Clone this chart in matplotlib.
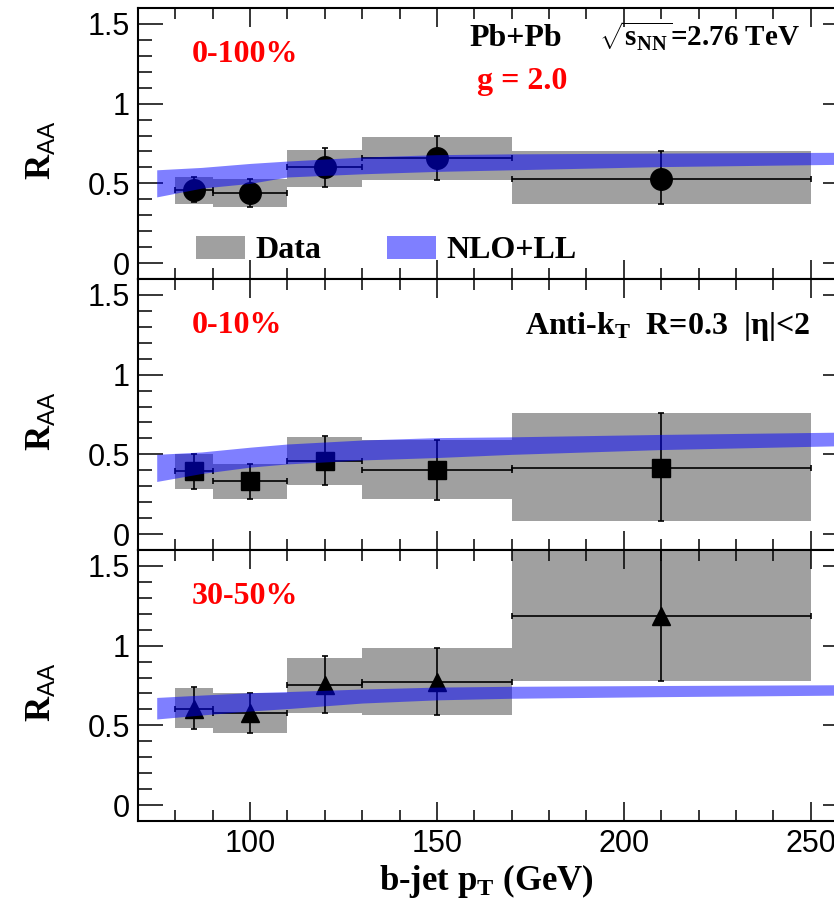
import numpy as np
import matplotlib
matplotlib.use('Agg')
import matplotlib.pyplot as plt
from matplotlib.ticker import MultipleLocator, FuncFormatter

plt.rcParams['font.family'] = 'Liberation Sans'
plt.rcParams['mathtext.fontset'] = 'custom'
plt.rcParams['mathtext.rm'] = 'Liberation Serif:bold'
plt.rcParams['mathtext.it'] = 'Liberation Serif:bold'
plt.rcParams['mathtext.bf'] = 'Liberation Serif:bold'
plt.rcParams['mathtext.sf'] = 'Liberation Sans'
plt.rcParams['mathtext.default'] = 'rm'

# b-jet pT bins (GeV)
pt = np.array([85, 100, 120, 150, 210])
pt_lo = np.array([80, 90, 110, 130, 170])
pt_hi = np.array([90, 110, 130, 170, 250])

# 0-100%
raa_0_100 = np.array([0.46, 0.44, 0.60, 0.66, 0.53])
stat_lo_0_100 = np.array([0.38, 0.35, 0.48, 0.52, 0.37])
stat_hi_0_100 = np.array([0.54, 0.53, 0.72, 0.80, 0.70])
sys_lo_0_100 = np.array([0.37, 0.35, 0.48, 0.52, 0.37])
sys_hi_0_100 = np.array([0.54, 0.53, 0.71, 0.79, 0.70])

# 0-10%
raa_0_10 = np.array([0.395, 0.33, 0.46, 0.40, 0.415])
stat_lo_0_10 = np.array([0.28, 0.22, 0.31, 0.215, 0.08])
stat_hi_0_10 = np.array([0.50, 0.44, 0.615, 0.59, 0.76])
sys_lo_0_10 = np.array([0.28, 0.22, 0.31, 0.22, 0.08])
sys_hi_0_10 = np.array([0.50, 0.44, 0.61, 0.59, 0.76])

# 30-50%
raa_30_50 = np.array([0.605, 0.577, 0.756, 0.77, 1.187])
stat_lo_30_50 = np.array([0.48, 0.455, 0.578, 0.562, 0.776])
stat_hi_30_50 = np.array([0.74, 0.70, 0.933, 0.983, 1.60])
sys_lo_30_50 = np.array([0.485, 0.455, 0.578, 0.562, 0.78])
sys_hi_30_50 = np.array([0.735, 0.70, 0.925, 0.983, 1.70])

# NLO+LL theory band (g = 2.0)
band_x = np.array([75, 87, 100, 110, 130, 150, 170, 210, 260])
band_lo_0_100 = np.array([0.415, 0.47, 0.50, 0.54, 0.56, 0.575, 0.585, 0.605, 0.62])
band_hi_0_100 = np.array([0.585, 0.60, 0.625, 0.64, 0.665, 0.68, 0.685, 0.69, 0.695])
band_lo_0_10 = np.array([0.33, 0.38, 0.42, 0.44, 0.465, 0.48, 0.50, 0.53, 0.555])
band_hi_0_10 = np.array([0.50, 0.515, 0.545, 0.565, 0.59, 0.605, 0.61, 0.625, 0.64])
band_lo_30_50 = np.array([0.54, 0.565, 0.59, 0.605, 0.64, 0.66, 0.67, 0.68, 0.69])
band_hi_30_50 = np.array([0.675, 0.69, 0.705, 0.712, 0.728, 0.74, 0.745, 0.75, 0.755])

panels = [
    ('0-100%', 'o', 15.5, raa_0_100, stat_lo_0_100, stat_hi_0_100, sys_lo_0_100, sys_hi_0_100,
     band_lo_0_100, band_hi_0_100),
    ('0-10%', 's', 13.5, raa_0_10, stat_lo_0_10, stat_hi_0_10, sys_lo_0_10, sys_hi_0_10,
     band_lo_0_10, band_hi_0_10),
    ('30-50%', '^', 13.5, raa_30_50, stat_lo_30_50, stat_hi_30_50, sys_lo_30_50, sys_hi_30_50,
     band_lo_30_50, band_hi_30_50),
]

serif = dict(family='Liberation Serif', weight='bold', size=23)

fig = plt.figure(figsize=(8.34, 9.08), dpi=100)
left, width, height = 0.1655, 0.8513, 0.29846
bottoms = [0.69273, 0.39427, 0.09581]

axes = []
for i, (label, marker, ms, raa, slo, shi, ylo, yhi, blo, bhi) in enumerate(panels):
    ax = fig.add_axes([left, bottoms[i], width, height])
    axes.append(ax)

    bars = ax.bar(pt_lo, yhi - ylo, width=pt_hi - pt_lo, bottom=ylo, align='edge',
                  color='#a0a0a0', linewidth=0, zorder=1)
    ax.errorbar(pt, raa, xerr=[pt - pt_lo, pt_hi - pt], yerr=[raa - slo, shi - raa],
                fmt=marker, color='black', ms=ms, capsize=2.5, elinewidth=1.2,
                capthick=1.2, zorder=3)
    band = ax.fill_between(band_x, blo, bhi, color='blue', alpha=0.5, linewidth=0, zorder=4)

    ax.set_xlim(70, 260)
    ax.set_ylim(-0.1, 1.6)
    ax.xaxis.set_major_locator(MultipleLocator(50))
    ax.xaxis.set_minor_locator(MultipleLocator(10))
    ax.yaxis.set_major_locator(MultipleLocator(0.5))
    ax.yaxis.set_minor_locator(MultipleLocator(0.1))
    ax.yaxis.set_major_formatter(FuncFormatter(lambda v, p: '%g' % v))
    ax.tick_params(which='both', direction='in', top=True, right=True, width=1.1,
                   labelsize=22, pad=6)
    ax.tick_params(axis='y', which='major', length=18)
    ax.tick_params(axis='y', which='minor', length=10)
    ax.tick_params(axis='x', which='major', length=14)
    ax.tick_params(axis='x', which='minor', length=8)
    for s in ax.spines.values():
        s.set_linewidth(1.5)
    if i < 2:
        ax.tick_params(labelbottom=False)

    ax.set_ylabel(r'R$_{\mathsf{AA}}$', family='Liberation Serif', weight='bold', size=25)
    ax.yaxis.set_label_coords(-0.112, 0.475)

    ax.text(84.4, 1.26, label, color='red', va='baseline', **serif)

    if i == 0:
        ax.text(158.8, 1.36, 'Pb+Pb', va='baseline', **serif)
        ax.text(193.3, 1.36, r'$\sqrt{\mathrm{s}_{\mathrm{NN}}}$=2.76 TeV', va='baseline',
                family='Liberation Serif', weight='bold', size=21)
        ax.text(160.7, 1.09, 'g = 2.0', color='red', va='baseline', **serif)
        ax.legend([bars, band], ['Data', 'NLO+LL'], prop=serif, ncol=2, frameon=False,
                  handlelength=1.54, handleheight=0.72, handletextpad=0.31,
                  columnspacing=2.07, borderpad=0, borderaxespad=0,
                  loc='lower left', bbox_to_anchor=(0.0817, 0.05))
    if i == 1:
        ax.text(173.5, 1.254, r'Anti-k$_{\mathrm{T}}$  R=0.3  |η|<2', va='baseline', **serif)

axes[2].set_xlabel(r'b-jet p$_{\mathrm{T}}$ (GeV)', family='Liberation Serif', weight='bold', size=25)
axes[2].xaxis.set_label_coords(0.49, -0.15)

fig.savefig('out.png', dpi=100)
